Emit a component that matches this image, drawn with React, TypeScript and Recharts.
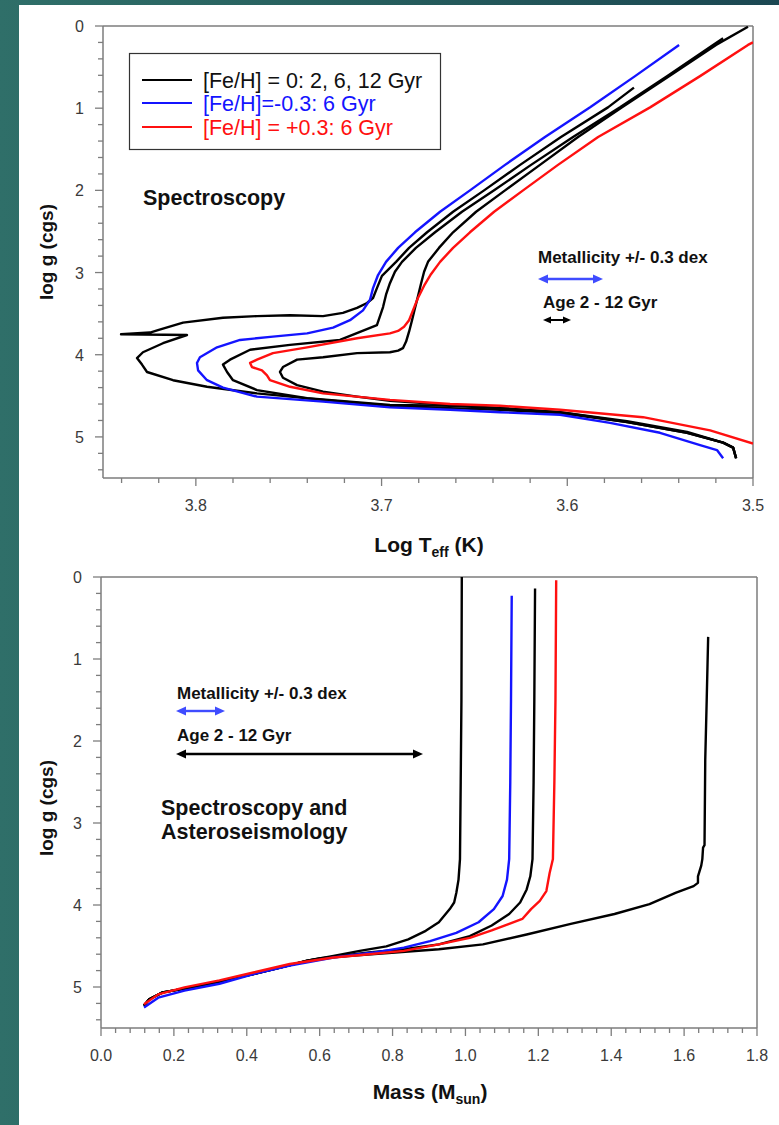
import React from 'react';
import { ComposedChart, Line, XAxis, YAxis, ReferenceLine } from 'recharts';

const FONT = '"Liberation Sans", Arial, Helvetica, sans-serif';
const AXIS = '#7d7d7d';
const BLACK = '#000000';
const BLUE = '#1414ff';
const RED = '#ff1010';
const ARROW_BLUE = '#3f4cff';

type P = [number, number];

// ---------- Top panel: log g vs log Teff ----------
const topXTicks = [3.5, 3.52, 3.54, 3.56, 3.58, 3.6, 3.62, 3.64, 3.66, 3.68, 3.7, 3.72, 3.74, 3.76, 3.78, 3.8, 3.82, 3.84];
const topXMajor = [3.5, 3.6, 3.7, 3.8];
const yTicks = [0, 0.2, 0.4, 0.6, 0.8, 1, 1.2, 1.4, 1.6, 1.8, 2, 2.2, 2.4, 2.6, 2.8, 3, 3.2, 3.4, 3.6, 3.8, 4, 4.2, 4.4, 4.6, 4.8, 5, 5.2, 5.4];
const yMajor = [0, 1, 2, 3, 4, 5];

const topBlack2Gyr: P[] = [
  [3.5091, 5.26], [3.5107, 5.13], [3.5161, 5.07], [3.5355, 4.95], [3.5678, 4.82], [3.6039, 4.71], [3.6362, 4.67],
  [3.6631, 4.65], [3.6955, 4.62], [3.7315, 4.55], [3.7671, 4.47], [3.794, 4.39], [3.8123, 4.31], [3.8263, 4.21],
  [3.829, 4.12], [3.8317, 4.04], [3.8285, 3.97], [3.8177, 3.86], [3.8048, 3.76], [3.8403, 3.75], [3.8247, 3.73],
  [3.8204, 3.7], [3.8069, 3.61], [3.7854, 3.55], [3.7671, 3.53], [3.7493, 3.52], [3.7315, 3.53], [3.7208, 3.49],
  [3.7132, 3.43], [3.7078, 3.37], [3.7046, 3.31], [3.7025, 3.19], [3.6998, 3.04], [3.6922, 2.87], [3.6852, 2.7],
  [3.6755, 2.51], [3.6615, 2.26], [3.6448, 2.0], [3.6254, 1.69], [3.6034, 1.35], [3.5781, 0.99], [3.5641, 0.75],
];
const topBlack6Gyr: P[] = [
  [3.5091, 5.26], [3.5107, 5.13], [3.5161, 5.07], [3.5355, 4.94], [3.5678, 4.81], [3.6039, 4.7], [3.6362, 4.65],
  [3.6631, 4.62], [3.6955, 4.61], [3.7401, 4.53], [3.7671, 4.43], [3.78, 4.31], [3.7832, 4.21], [3.7854, 4.12],
  [3.7816, 4.06], [3.7708, 3.94], [3.7493, 3.88], [3.7224, 3.82], [3.7025, 3.64], [3.6992, 3.42], [3.6976, 3.27],
  [3.6955, 3.13], [3.6928, 2.99], [3.689, 2.87], [3.6815, 2.7], [3.6712, 2.51], [3.6567, 2.26], [3.6394, 2.0],
  [3.6195, 1.69], [3.5969, 1.35], [3.5716, 0.99], [3.5463, 0.61], [3.5215, 0.23], [3.5161, 0.15],
];
const topBlack12Gyr: P[] = [
  [3.5091, 5.26], [3.5107, 5.13], [3.5161, 5.07], [3.5355, 4.95], [3.5678, 4.82], [3.6039, 4.7], [3.6362, 4.65],
  [3.6631, 4.61], [3.6955, 4.56], [3.7132, 4.51], [3.7315, 4.45], [3.7455, 4.37], [3.7531, 4.28], [3.7547, 4.21],
  [3.7531, 4.15], [3.7455, 4.06], [3.7315, 4.03], [3.7132, 3.98], [3.6955, 3.97], [3.6911, 3.95], [3.6885, 3.92],
  [3.6868, 3.84], [3.6852, 3.72], [3.6836, 3.58], [3.682, 3.43], [3.6804, 3.29], [3.6788, 3.14], [3.6771, 2.99],
  [3.675, 2.87], [3.6691, 2.7], [3.6615, 2.51], [3.6491, 2.26], [3.6335, 2.0], [3.6147, 1.69], [3.5942, 1.35],
  [3.5705, 0.99], [3.5452, 0.61], [3.5199, 0.23], [3.5027, 0.01],
];
const topBlueM03: P[] = [
  [3.5161, 5.26], [3.5194, 5.16], [3.5285, 5.1], [3.5501, 4.95], [3.577, 4.83], [3.6039, 4.73], [3.6362, 4.7],
  [3.6631, 4.67], [3.6955, 4.64], [3.7315, 4.57], [3.7671, 4.51], [3.7854, 4.4], [3.794, 4.31], [3.7988, 4.19],
  [3.7994, 4.1], [3.7978, 4.03], [3.7886, 3.91], [3.7762, 3.82], [3.7585, 3.78], [3.7401, 3.74], [3.7261, 3.67],
  [3.717, 3.58], [3.71, 3.46], [3.7062, 3.33], [3.7046, 3.19], [3.7019, 3.03], [3.6976, 2.87], [3.6911, 2.7],
  [3.682, 2.51], [3.6685, 2.26], [3.6524, 2.0], [3.6335, 1.69], [3.612, 1.35], [3.5877, 0.99], [3.5635, 0.61],
  [3.5398, 0.23],
];
const topRedP03: P[] = [
  [3.5, 5.08], [3.5231, 4.92], [3.5592, 4.76], [3.6039, 4.67], [3.6362, 4.62], [3.6631, 4.6], [3.6955, 4.55],
  [3.7315, 4.47], [3.7493, 4.39], [3.7601, 4.31], [3.7617, 4.25], [3.7644, 4.19], [3.7698, 4.15], [3.7708, 4.1],
  [3.7671, 4.06], [3.7585, 3.98], [3.7401, 3.91], [3.7132, 3.8], [3.6955, 3.74], [3.6911, 3.71], [3.6879, 3.66],
  [3.6852, 3.58], [3.6831, 3.46], [3.6804, 3.31], [3.6771, 3.16], [3.6734, 3.02], [3.6685, 2.87], [3.6615, 2.7],
  [3.6524, 2.51], [3.6394, 2.26], [3.6238, 2.0], [3.605, 1.69], [3.5834, 1.35], [3.5554, 0.99], [3.5285, 0.61],
  [3.5027, 0.23], [3.5, 0.2],
];

// ---------- Bottom panel: log g vs mass ----------
const botXTicks = [
  0, 0.04, 0.08, 0.12, 0.16, 0.2, 0.24, 0.28, 0.32, 0.36, 0.4, 0.44, 0.48, 0.52, 0.56, 0.6, 0.64, 0.68, 0.72, 0.76,
  0.8, 0.84, 0.88, 0.92, 0.96, 1.0, 1.04, 1.08, 1.12, 1.16, 1.2, 1.24, 1.28, 1.32, 1.36, 1.4, 1.44, 1.48, 1.52, 1.56,
  1.6, 1.64, 1.68, 1.72, 1.76, 1.8,
];
const botXMajor = [0, 0.2, 0.4, 0.6, 0.8, 1.0, 1.2, 1.4, 1.6, 1.8];

const botBlack12Gyr: P[] = [
  [0.118, 5.23], [0.132, 5.15], [0.169, 5.065], [0.229, 5.02], [0.325, 4.935], [0.421, 4.84], [0.494, 4.76],
  [0.566, 4.68], [0.638, 4.62], [0.71, 4.56], [0.783, 4.505], [0.843, 4.42], [0.891, 4.315], [0.927, 4.21],
  [0.957, 4.05], [0.969, 3.97], [0.975, 3.85], [0.981, 3.69], [0.985, 3.44], [0.987, 2.5], [0.989, 1.5], [0.99, 0.0],
];
const botBlack6Gyr: P[] = [
  [0.118, 5.23], [0.132, 5.15], [0.169, 5.065], [0.229, 5.02], [0.325, 4.935], [0.421, 4.84], [0.494, 4.76],
  [0.566, 4.68], [0.638, 4.63], [0.735, 4.58], [0.831, 4.54], [0.927, 4.48], [1.012, 4.38], [1.072, 4.25],
  [1.12, 4.11], [1.15, 3.97], [1.168, 3.81], [1.178, 3.65], [1.184, 3.44], [1.187, 2.5], [1.189, 1.5], [1.191, 0.14],
];
const botBlack2Gyr: P[] = [
  [0.118, 5.23], [0.132, 5.15], [0.169, 5.065], [0.229, 5.02], [0.325, 4.935], [0.421, 4.84], [0.494, 4.76],
  [0.566, 4.68], [0.602, 4.65], [0.686, 4.62], [0.807, 4.58], [0.927, 4.54], [1.048, 4.48], [1.168, 4.36],
  [1.289, 4.23], [1.409, 4.11], [1.505, 3.99], [1.578, 3.85], [1.626, 3.77], [1.638, 3.73], [1.638, 3.65],
  [1.647, 3.52], [1.65, 3.44], [1.652, 3.3], [1.656, 3.27], [1.658, 2.23], [1.662, 1.5], [1.666, 0.73],
];
const botBlueM03: P[] = [
  [0.118, 5.25], [0.157, 5.13], [0.229, 5.045], [0.325, 4.96], [0.421, 4.84], [0.518, 4.74], [0.638, 4.64],
  [0.747, 4.58], [0.831, 4.52], [0.903, 4.44], [0.975, 4.34], [1.036, 4.21], [1.078, 4.05], [1.102, 3.89],
  [1.114, 3.69], [1.12, 3.44], [1.123, 2.5], [1.125, 1.5], [1.127, 0.23],
];
const botRedP03: P[] = [
  [0.118, 5.21], [0.157, 5.09], [0.229, 5.005], [0.325, 4.92], [0.421, 4.82], [0.518, 4.72], [0.638, 4.64],
  [0.735, 4.6], [0.831, 4.56], [0.927, 4.48], [1.012, 4.4], [1.072, 4.31], [1.12, 4.23], [1.156, 4.17],
  [1.18, 4.05], [1.204, 3.95], [1.222, 3.83], [1.231, 3.61], [1.24, 3.44], [1.244, 2.5], [1.247, 1.5], [1.249, 0.04],
];

const legendLabels = ['[Fe/H] = 0: 2, 6, 12 Gyr', '[Fe/H]=-0.3: 6 Gyr', '[Fe/H] = +0.3: 6 Gyr'];
const legendColors = [BLACK, BLUE, RED];

const toPts = (a: P[]) => a.map(([x, y]) => ({ x, y }));
const near = (arr: number[], v: number) => arr.some((m) => Math.abs(m - v) < 1e-6);

function makeXTick(majors: number[], digits: number) {
  return (props: any) => {
    const { x, y, payload } = props;
    const v = payload.value as number;
    const major = near(majors, v);
    return (
      <g>
        <line x1={x} x2={x} y1={y} y2={y + (major ? 8 : 5)} stroke={AXIS} strokeWidth={1.3} />
        {major && (
          <text x={x} y={y + 33} textAnchor="middle" fontSize={16} fill="#3a3a3a" fontFamily={FONT}>
            {v.toFixed(digits)}
          </text>
        )}
      </g>
    );
  };
}

const yTickRenderer = (props: any) => {
  const { x, y, payload } = props;
  const v = payload.value as number;
  const major = near(yMajor, v);
  return (
    <g>
      <line x1={x - (major ? 8 : 5)} x2={x} y1={y} y2={y} stroke={AXIS} strokeWidth={1.3} />
      {major && (
        <text x={x - 19} y={y + 6} textAnchor="end" fontSize={16} fill="#3a3a3a" fontFamily={FONT}>
          {String(v)}
        </text>
      )}
    </g>
  );
};

type Series = { name: string; data: P[]; color: string };

function Panel(props: {
  top: number;
  left: number;
  right: number;
  marginTop: number;
  xDomain: [number, number];
  reversed: boolean;
  rightEdge: number;
  xTicks: number[];
  xMajor: number[];
  digits: number;
  series: Series[];
}) {
  const { top, left, right, marginTop, xDomain, reversed, rightEdge, xTicks, xMajor, digits, series } = props;
  return (
    <div style={{ position: 'absolute', left: 0, top }}>
      <ComposedChart width={779} height={560} margin={{ top: marginTop, right, left, bottom: 42 }}>
        <XAxis
          type="number"
          dataKey="x"
          domain={xDomain}
          reversed={reversed}
          ticks={xTicks}
          interval={0}
          allowDataOverflow
          tickLine={false}
          tickSize={0}
          tickMargin={0}
          height={40}
          axisLine={{ stroke: AXIS, strokeWidth: 1.5 }}
          tick={makeXTick(xMajor, digits)}
        />
        <YAxis
          type="number"
          dataKey="y"
          domain={[0, 5.5]}
          reversed
          ticks={yTicks}
          interval={0}
          allowDataOverflow
          tickLine={false}
          tickSize={0}
          tickMargin={0}
          width={60}
          axisLine={{ stroke: AXIS, strokeWidth: 1.5 }}
          tick={yTickRenderer}
        />
        <ReferenceLine y={0} stroke={AXIS} strokeWidth={1.5} />
        <ReferenceLine x={rightEdge} stroke={AXIS} strokeWidth={1.5} />
        {series.map((s) => (
          <Line
            key={s.name}
            name={s.name}
            data={toPts(s.data)}
            dataKey="y"
            type="linear"
            stroke={s.color}
            strokeWidth={2.4}
            strokeLinejoin="round"
            dot={false}
            activeDot={false}
            isAnimationActive={false}
          />
        ))}
      </ComposedChart>
    </div>
  );
}

function Arrow({ x1, x2, y, color, w = 2.4, head = 10, hw = 4.5 }: { x1: number; x2: number; y: number; color: string; w?: number; head?: number; hw?: number }) {
  return (
    <g>
      <line x1={x1 + head - 1} x2={x2 - head + 1} y1={y} y2={y} stroke={color} strokeWidth={w} />
      <polygon points={`${x1},${y} ${x1 + head},${y - hw} ${x1 + head},${y + hw}`} fill={color} />
      <polygon points={`${x2},${y} ${x2 - head},${y - hw} ${x2 - head},${y + hw}`} fill={color} />
    </g>
  );
}

export default function App() {
  const topSeries: Series[] = [
    { name: 'top-2', data: topBlack2Gyr, color: BLACK },
    { name: 'top-6', data: topBlack6Gyr, color: BLACK },
    { name: 'top-12', data: topBlack12Gyr, color: BLACK },
    { name: 'top-blue', data: topBlueM03, color: BLUE },
    { name: 'top-red', data: topRedP03, color: RED },
  ];
  const botSeries: Series[] = [
    { name: 'bot-12', data: botBlack12Gyr, color: BLACK },
    { name: 'bot-6', data: botBlack6Gyr, color: BLACK },
    { name: 'bot-2', data: botBlack2Gyr, color: BLACK },
    { name: 'bot-blue', data: botBlueM03, color: BLUE },
    { name: 'bot-red', data: botRedP03, color: RED },
  ];
  const legendY = [80, 103, 127];
  return (
    <div
      style={{
        position: 'absolute',
        left: 0,
        top: 0,
        width: 779,
        height: 1125,
        overflow: 'hidden',
        background: 'linear-gradient(90deg, #2f6f69 0%, #28615f 40%, #1b4752 100%)',
        fontFamily: FONT,
      }}
    >
      <div style={{ position: 'absolute', left: 19, top: 5, right: 0, bottom: 0, background: '#ffffff' }} />
      <Panel
        top={0}
        left={43}
        right={26}
        marginTop={26}
        xDomain={[3.5, 3.85]}
        reversed
        rightEdge={3.5}
        xTicks={topXTicks}
        xMajor={topXMajor}
        digits={1}
        series={topSeries}
      />
      <Panel
        top={550}
        left={41}
        right={22}
        marginTop={27}
        xDomain={[0, 1.8]}
        reversed={false}
        rightEdge={1.8}
        xTicks={botXTicks}
        xMajor={botXMajor}
        digits={1}
        series={botSeries}
      />
      <svg width={779} height={1125} style={{ position: 'absolute', left: 0, top: 0, pointerEvents: 'none' }} fontFamily={FONT}>
        {/* legend */}
        <rect x={129.5} y={53.5} width={311} height={96} fill="#fff" stroke="#333" strokeWidth={1.2} />
        {legendLabels.map((t, i) => (
          <g key={t}>
            <line x1={142} x2={192} y1={legendY[i]} y2={legendY[i]} stroke={legendColors[i]} strokeWidth={2.2} />
            <text x={203} y={legendY[i] + 7.5} fontSize={21.5} fill={i === 0 ? '#111' : legendColors[i]}>
              {t}
            </text>
          </g>
        ))}
        {/* top panel annotations */}
        <text x={143} y={205} fontSize={21.5} fontWeight="bold" fill="#111">Spectroscopy</text>
        <text x={538} y={263} fontSize={17} fontWeight="bold" fill="#111">Metallicity +/- 0.3 dex</text>
        <Arrow x1={538} x2={603} y={279} color={ARROW_BLUE} />
        <text x={543} y={308} fontSize={17} fontWeight="bold" fill="#111">Age 2 - 12 Gyr</text>
        <Arrow x1={543} x2={571} y={320} color="#000" w={2} head={8} hw={3.5} />
        {/* bottom panel annotations */}
        <text x={177} y={699} fontSize={17} fontWeight="bold" fill="#111">Metallicity +/- 0.3 dex</text>
        <Arrow x1={176} x2={225} y={711} color={ARROW_BLUE} />
        <text x={177} y={741} fontSize={17} fontWeight="bold" fill="#111">Age 2 - 12 Gyr</text>
        <Arrow x1={176} x2={423} y={754} color="#000" />
        <text x={161} y={815} fontSize={21.5} fontWeight="bold" fill="#111">Spectroscopy and</text>
        <text x={161} y={839} fontSize={21.5} fontWeight="bold" fill="#111">Asteroseismology</text>
        {/* axis titles */}
        <text transform="translate(53,252) rotate(-90)" textAnchor="middle" fontSize={19} fontWeight="bold" fill="#111">
          log g (cgs)
        </text>
        <text transform="translate(53,808) rotate(-90)" textAnchor="middle" fontSize={19} fontWeight="bold" fill="#111">
          log g (cgs)
        </text>
        <text x={429} y={552} textAnchor="middle" fontSize={21} fontWeight="bold" fill="#111">
          Log T<tspan fontSize={14} dy={5}>eff</tspan>
          <tspan dy={-5}> (K)</tspan>
        </text>
        <text x={430} y={1099} textAnchor="middle" fontSize={21} fontWeight="bold" fill="#111">
          Mass (M<tspan fontSize={14} dy={5}>sun</tspan>
          <tspan dy={-5}>)</tspan>
        </text>
      </svg>
    </div>
  );
}
